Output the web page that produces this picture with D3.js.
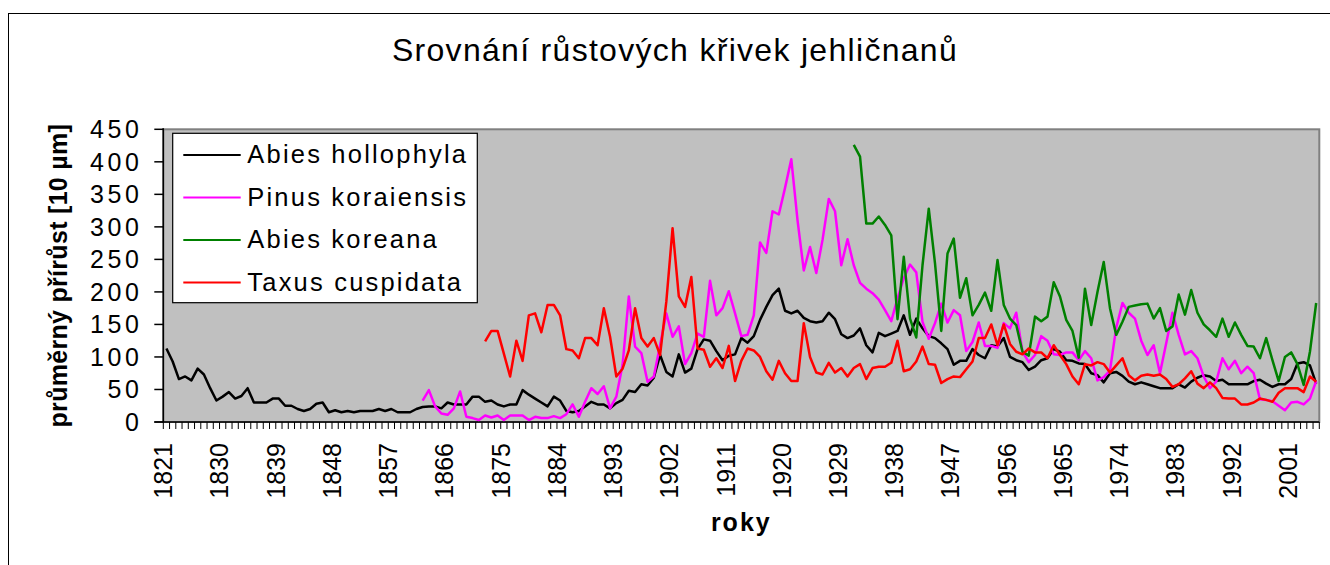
<!DOCTYPE html>
<html>
<head>
<meta charset="utf-8">
<script src="https://cdn.jsdelivr.net/npm/d3@7"></script>
<style>
  html, body { margin: 0; padding: 0; background: #fff; }
  svg { display: block; font-family: "Liberation Sans", Arial, sans-serif; }
</style>
</head>
<body>
<svg id="chart" width="1330" height="565"></svg>
<script>
// ---------- DATA ----------
const firstYear = 1821;
const lastYear = 2005;
const tickYears = [1821,1830,1839,1848,1857,1866,1875,1884,1893,1902,1911,1920,1929,1938,1947,1956,1965,1974,1983,1992,2001];
const yTicks = [0,50,100,150,200,250,300,350,400,450];

const seriesNames = ["Abies hollophyla","Pinus koraiensis","Abies koreana","Taxus cuspidata"];
const seriesColors = ["#000000","#FF00FF","#008000","#FF0000"];
const seriesStart = [1821, 1862, 1931, 1872];

const abiesHollophyla = [113,93,66,70,64,82,73,52,33,39,
  46,36,40,52,30,30,30,36,36,25,
  25,20,17,20,28,30,15,18,15,17,
  15,17,17,17,20,17,20,15,15,15,
  20,23,24,24,21,30,27,27,27,39,
  39,31,33,27,24,27,27,49,42,36,
  30,24,39,33,17,15,17,24,31,27,
  27,21,29,34,48,46,58,56,68,103,
  77,70,104,76,82,112,127,125,109,95,
  102,104,129,122,132,157,177,195,205,171,
  167,171,160,155,153,155,168,158,135,129,
  133,144,118,107,137,132,136,140,164,134,
  159,144,132,129,121,112,88,94,94,112,
  103,98,118,116,129,100,95,92,80,85,
  95,98,112,108,95,94,90,89,75,72,
  61,75,77,71,62,58,61,58,55,52,
  52,52,58,53,62,68,72,70,63,65,
  58,58,58,58,63,65,59,54,58,58,
  66,90,92,87,59];

const pinusKoraiensis = [33,49,24,13,11,21,47,8,6,3,
  10,7,10,3,10,10,10,3,8,6,
  6,9,6,12,27,8,31,52,43,55,
  21,39,88,193,116,106,62,70,118,167,
  131,147,89,106,136,131,217,164,175,201,
  167,132,134,164,276,260,324,319,360,404,
  310,233,269,229,280,343,324,241,281,241,
  214,205,198,188,172,155,190,221,242,230,
  154,128,152,182,153,172,164,109,123,153,
  117,117,114,152,144,168,108,92,103,132,
  125,104,103,107,107,95,109,98,64,69,
  79,145,183,168,159,125,103,118,75,121,
  168,134,104,109,98,70,52,62,98,81,
  94,75,85,75,35,34,32,25,18,30,
  31,27,36,63];

const abiesKoreana = [426,408,305,305,316,303,287,158,254,159,
  130,241,328,244,140,259,282,191,221,164,
  180,199,171,249,180,159,149,108,102,162,
  155,162,215,193,157,140,99,205,149,200,
  246,175,134,154,177,179,181,182,159,175,
  140,147,196,165,203,168,150,141,131,159,
  131,153,134,117,116,98,129,95,63,100,
  107,89,57,108,183];

const taxusCuspidata = [124,140,140,105,70,125,94,164,167,138,
  180,180,164,112,110,98,129,129,118,175,
  131,70,82,110,175,129,116,129,103,185,
  298,193,177,223,113,111,85,98,83,117,
  63,94,113,110,100,78,65,94,75,63,
  63,152,100,76,73,91,76,83,70,83,
  89,66,83,85,85,91,125,78,81,93,
  116,89,88,60,66,70,69,81,93,129,
  129,150,118,150,120,108,104,113,107,107,
  98,118,103,89,70,58,89,87,92,89,
  76,87,98,72,64,71,73,71,73,66,
  54,58,67,78,59,52,61,52,37,36,
  36,27,27,30,36,34,31,45,52,52,
  52,46,70,62];

const seriesValues = [abiesHollophyla, pinusKoraiensis, abiesKoreana, taxusCuspidata];

// ---------- CHART ----------
const svg = d3.select("#chart");
const years = d3.range(firstYear, lastYear + 1);

const plot = {left: 163.3, right: 1319.3, top: 129.3, bottom: 422};

const x = d3.scalePoint().domain(years).range([plot.left, plot.right]).padding(0.5);
const step = x.step();
const y = d3.scaleLinear().domain([0, 450]).range([plot.bottom, plot.top]);

// outer chart border
svg.append("rect")
  .attr("x", 8.5).attr("y", 13.5)
  .attr("width", 1340).attr("height", 600)
  .attr("fill", "#fff").attr("stroke", "#000").attr("stroke-width", 1);

// title
svg.append("text")
  .attr("x", 675).attr("y", 61)
  .attr("text-anchor", "middle")
  .attr("font-size", 32)
  .attr("letter-spacing", 1.3)
  .attr("fill", "#000")
  .text("Srovnání růstových křivek jehličnanů");

// plot area
svg.append("rect")
  .attr("x", plot.left).attr("y", plot.top)
  .attr("width", plot.right - plot.left).attr("height", plot.bottom - plot.top)
  .attr("fill", "#C0C0C0")
  .attr("stroke", "#808080").attr("stroke-width", 2);

// y axis
const yAxis = svg.append("g");
yAxis.append("line")
  .attr("x1", plot.left).attr("x2", plot.left)
  .attr("y1", plot.top - 1).attr("y2", plot.bottom)
  .attr("stroke", "#000").attr("stroke-width", 1.5);
yAxis.selectAll("line.tick").data(yTicks).enter().append("line")
  .attr("class", "tick")
  .attr("x1", plot.left - 9).attr("x2", plot.left)
  .attr("y1", d => y(d)).attr("y2", d => y(d))
  .attr("stroke", "#000").attr("stroke-width", 1.5);
yAxis.selectAll("text").data(yTicks).enter().append("text")
  .attr("x", 142.3)
  .attr("y", d => y(d))
  .attr("dy", "0.35em")
  .attr("text-anchor", "end")
  .attr("font-size", 25)
  .attr("letter-spacing", 3.5)
  .text(d => d);

// x axis
const xAxis = svg.append("g");
xAxis.append("line")
  .attr("x1", plot.left - 9).attr("x2", plot.right)
  .attr("y1", plot.bottom).attr("y2", plot.bottom)
  .attr("stroke", "#000").attr("stroke-width", 1.5);
xAxis.selectAll("line.tick").data(years.concat([lastYear + 1])).enter().append("line")
  .attr("class", "tick")
  .attr("x1", d => x(firstYear) - step / 2 + (d - firstYear) * step)
  .attr("x2", d => x(firstYear) - step / 2 + (d - firstYear) * step)
  .attr("y1", plot.bottom).attr("y2", plot.bottom + 7)
  .attr("stroke", "#000").attr("stroke-width", 1);
xAxis.selectAll("text").data(tickYears).enter().append("text")
  .attr("transform", d => `translate(${x(d) - 3.3 + 9},443) rotate(-90)`)
  .attr("text-anchor", "end")
  .attr("font-size", 25)
  .text(d => d);

// axis titles
svg.append("text")
  .attr("transform", `translate(66.5,${(plot.top + plot.bottom) / 2}) rotate(-90)`)
  .attr("text-anchor", "middle")
  .attr("font-size", 25)
  .attr("font-weight", "bold")
  .attr("letter-spacing", 0.3)
  .text("průměrný přírůst [10 µm]");

svg.append("text")
  .attr("x", (plot.left + plot.right) / 2).attr("y", 531)
  .attr("text-anchor", "middle")
  .attr("font-size", 25)
  .attr("font-weight", "bold")
  .attr("letter-spacing", 2)
  .text("roky");

// series lines
const line = d3.line()
  .x(d => x(d.year))
  .y(d => y(d.value));

seriesValues.forEach((vals, i) => {
  const pts = vals.map((v, j) => ({year: seriesStart[i] + j, value: v}));
  svg.append("path")
    .datum(pts)
    .attr("d", line)
    .attr("fill", "none")
    .attr("stroke", seriesColors[i])
    .attr("stroke-width", 2.5)
    .attr("stroke-linejoin", "round");
});

// legend
const legend = svg.append("g");
legend.append("rect")
  .attr("x", 172.7).attr("y", 133.3)
  .attr("width", 304.6).attr("height", 169.4)
  .attr("fill", "#fff").attr("stroke", "#000").attr("stroke-width", 1.2);
const rowY = [155, 197.5, 240, 282.5];
seriesNames.forEach((name, i) => {
  legend.append("line")
    .attr("x1", 183.3).attr("x2", 240.7)
    .attr("y1", rowY[i]).attr("y2", rowY[i])
    .attr("stroke", seriesColors[i]).attr("stroke-width", 2);
  legend.append("text")
    .attr("x", 247.3).attr("y", rowY[i] + 8.3)
    .attr("font-size", 25.5)
    .attr("letter-spacing", 2.2)
    .text(name);
});
</script>
</body>
</html>
